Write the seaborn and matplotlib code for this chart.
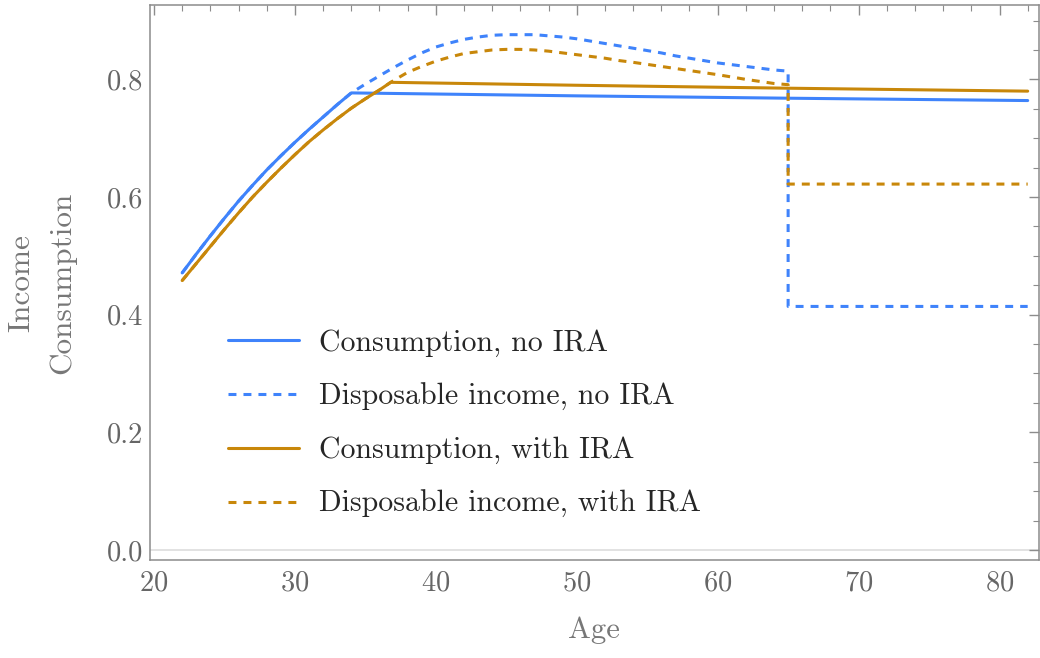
import numpy as np
import pandas as pd
import matplotlib.pyplot as plt
import seaborn as sns
from matplotlib.ticker import MultipleLocator, FormatStrFormatter

# values
# working years (consumption = income before the kink)
age_early_no = [22, 23, 24, 25, 26, 27, 28, 29, 30, 31, 32, 33, 34]
val_early_no = [0.471, 0.503, 0.534, 0.564, 0.593, 0.620, 0.646, 0.670, 0.693,
                0.715, 0.736, 0.757, 0.777]
age_early_ira = [22, 23, 24, 25, 26, 27, 28, 29, 30, 31, 32, 33, 34, 35, 36, 36.8]
val_early_ira = [0.458, 0.487, 0.516, 0.545, 0.573, 0.600, 0.625, 0.649, 0.672,
                 0.694, 0.714, 0.733, 0.751, 0.767, 0.782, 0.795]

# flat consumption after the kink
age_cons_no_late = [50, 65, 82]
cons_no_late = [0.772, 0.768, 0.764]
age_cons_ira_late = [50, 65, 82]
cons_ira_late = [0.790, 0.785, 0.780]

# disposable income hump + retirement drop at 65
age_inc_no_late = [35, 36, 37, 38, 39, 40, 41, 42, 43, 44, 45, 46, 47, 48, 49, 50,
                   51, 52, 53, 54, 55, 56, 57, 58, 59, 60, 61, 62, 63, 64, 65, 65, 82]
inc_no_late = [0.792, 0.806, 0.820, 0.833, 0.845, 0.855, 0.862, 0.868, 0.872, 0.875,
               0.876, 0.876, 0.876, 0.874, 0.872, 0.869, 0.865, 0.861, 0.857, 0.853,
               0.849, 0.845, 0.840, 0.836, 0.832, 0.828, 0.825, 0.822, 0.819, 0.816,
               0.814, 0.414, 0.414]
age_inc_ira_late = [37.5, 38, 39, 40, 41, 42, 43, 44, 45, 46, 47, 48, 49, 50, 51,
                    52, 53, 54, 56, 58, 60, 62, 64, 65, 65, 82]
inc_ira_late = [0.805, 0.812, 0.822, 0.831, 0.838, 0.844, 0.847, 0.850, 0.851, 0.851,
                0.850, 0.848, 0.845, 0.842, 0.839, 0.836, 0.832, 0.829, 0.822, 0.815,
                0.808, 0.800, 0.793, 0.791, 0.622, 0.622]

labels = ['Consumption, no IRA', 'Disposable income, no IRA',
          'Consumption, with IRA', 'Disposable income, with IRA']

ages = [age_early_no + age_cons_no_late, age_early_no + age_inc_no_late,
        age_early_ira + age_cons_ira_late, age_early_ira + age_inc_ira_late]
vals = [val_early_no + cons_no_late, val_early_no + inc_no_late,
        val_early_ira + cons_ira_late, val_early_ira + inc_ira_late]

# long dataframe for seaborn
frames = []
for lab, a, v in zip(labels, ages, vals):
    frames.append(pd.DataFrame({'Age': a, 'value': v, 'series': lab}))
df = pd.concat(frames, ignore_index=True)

blue = '#3f83fb'
orange = '#c8870a'
palette = {labels[0]: blue, labels[1]: blue, labels[2]: orange, labels[3]: orange}
dashes = {labels[0]: '', labels[1]: (2.6, 2.3), labels[2]: '', labels[3]: (2.6, 2.3)}

sns.set_theme(style='white')
plt.rcParams['font.family'] = ['cmr10', 'DejaVu Serif']
plt.rcParams['axes.formatter.use_mathtext'] = True
plt.rcParams['mathtext.fontset'] = 'cm'

fig = plt.figure(figsize=(10.4, 6.58), dpi=100)
ax = fig.add_axes([0.144, 0.149, 0.855, 0.843])

ax.axhline(0, color='#dddddd', lw=1.2, zorder=0)

sns.lineplot(data=df, x='Age', y='value', hue='series', style='series',
             hue_order=labels, style_order=labels, palette=palette, dashes=dashes,
             estimator=None, sort=False, lw=2.2, ax=ax)

# rebuild legend without frame
leg = ax.get_legend()
handles = leg.legend_handles
for h in handles:
    h.set_linewidth(2.2)
texts = [t.get_text() for t in leg.get_texts()]
ax.legend(handles, texts, loc='upper left', bbox_to_anchor=(0.058, 0.465),
          frameon=False, fontsize=21.5, handlelength=2.36, handletextpad=0.68,
          labelspacing=0.87)

ax.set_xlim(19.7, 82.8)
ax.set_ylim(-0.017, 0.926)
ax.xaxis.set_major_locator(MultipleLocator(10))
ax.xaxis.set_minor_locator(MultipleLocator(2))
ax.yaxis.set_major_locator(MultipleLocator(0.2))
ax.yaxis.set_minor_locator(MultipleLocator(0.05))
ax.yaxis.set_major_formatter(FormatStrFormatter('%.1f'))

# Mathematica-like frame
frame_col = '#8c8c8c'
for s in ax.spines.values():
    s.set_color(frame_col)
    s.set_linewidth(1.1)
ax.tick_params(which='both', direction='in', top=True, right=True,
               color=frame_col, labelcolor='#666666', labelsize=20.5)
ax.tick_params(which='major', length=7, width=1)
ax.tick_params(which='minor', length=4, width=0.8)
ax.tick_params(axis='x', which='major', pad=7)
ax.tick_params(axis='y', which='major', pad=4.5)

ax.set_xlabel('Age', fontsize=22, color='#777777', labelpad=15)
ax.set_ylabel('Income\nConsumption', fontsize=22.5, color='#777777', labelpad=22,
              linespacing=1.6)

plt.savefig('out.png', dpi=100)
